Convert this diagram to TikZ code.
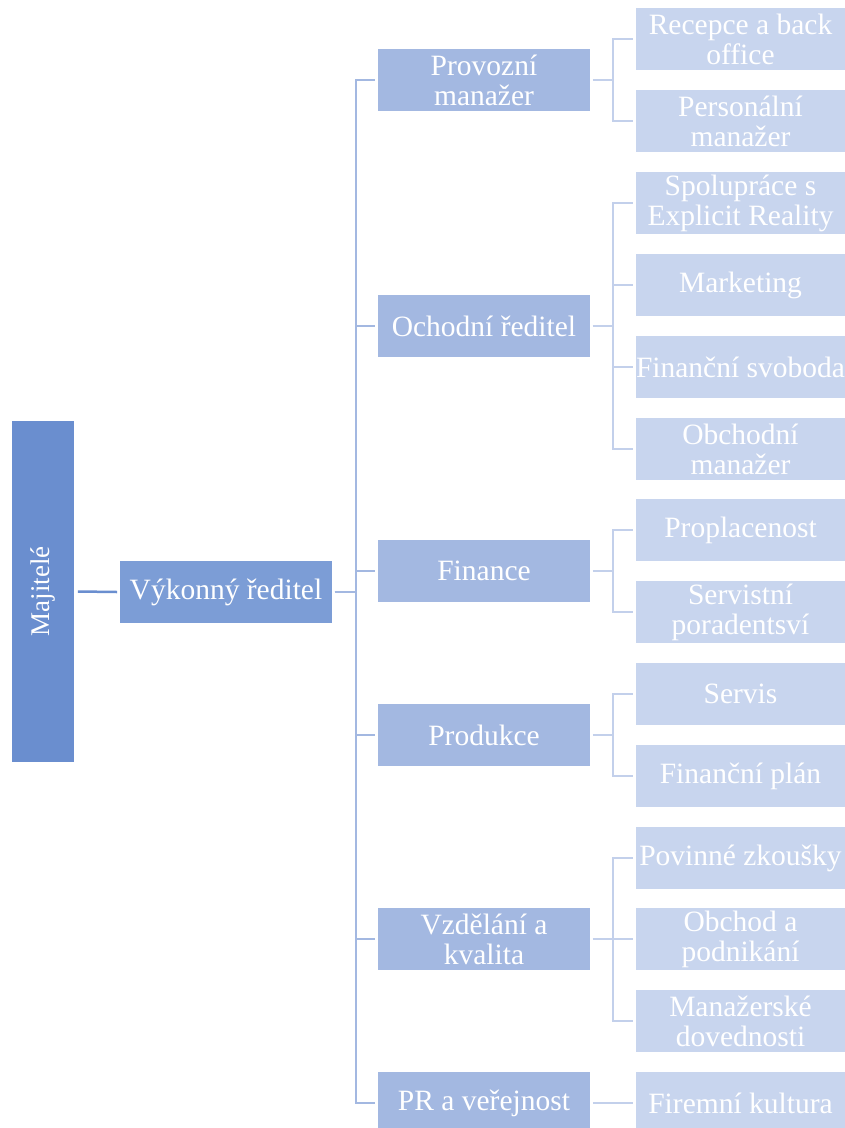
\documentclass[tikz,border=0pt]{standalone}
\usepackage{fontspec}
\setmainfont{Liberation Serif}
\definecolor{cA}{HTML}{6A8ECF}
\definecolor{cB}{HTML}{7C9DD6}
\definecolor{cC}{HTML}{A3B8E1}
\definecolor{cD}{HTML}{C8D5EE}
\definecolor{lB}{HTML}{A3B8E1}
\definecolor{lC}{HTML}{C3D0EB}
\tikzset{
  box/.style={rectangle, draw=white, line width=0.8pt, text=white, align=center, inner sep=0pt,
    font=\fontsize{29.5}{30}\selectfont},
  rootbox/.style={box, fill=cA, minimum width=63pt, minimum height=342pt, font=\fontsize{27}{30}\selectfont},
  ceobox/.style={box, fill=cB, minimum width=213pt, minimum height=63pt},
  midbox/.style={box, fill=cC, minimum width=213pt, minimum height=63pt},
  leafbox/.style={box, fill=cD, minimum width=211pt, minimum height=63pt},
  linkA/.style={draw=cA, line width=2.5pt},
  linkB/.style={draw=lB, line width=2.5pt},
  linkC/.style={draw=lC, line width=2.5pt},
}
\begin{document}
\begin{tikzpicture}[x=1pt,y=-1pt]
\useasboundingbox (0,0) rectangle (845,1128);
\clip (0,0) rectangle (845,1128);
\node[rootbox] (maj) at (43,591.5) {\rotatebox{90}{Majitelé}};
\node[ceobox] (ceo) at (226,592) {Výkonný ředitel};
% level 2
\node[midbox] (p1) at (484,80) {Provozní\\manažer};
\node[midbox] (p2) at (484,326) {Ochodní ředitel};
\node[midbox] (p3) at (484,571) {Finance};
\node[midbox] (p4) at (484,735) {Produkce};
\node[midbox] (p5) at (484,939) {Vzdělání a\\kvalita};
\node[midbox] (p6) at (484,1103) {PR a veřejnost};
% level 3
\node[leafbox] (c1) at (740.5,39) {Recepce a back\\office};
\node[leafbox] (c2) at (740.5,121) {Personální\\manažer};
\node[leafbox] (c3) at (740.5,203) {Spolupráce s\\Explicit Reality};
\node[leafbox] (c4) at (740.5,285) {Marketing};
\node[leafbox] (c5) at (740.5,367) {Finanční svoboda};
\node[leafbox] (c6) at (740.5,449) {Obchodní\\manažer};
\node[leafbox] (c7) at (740.5,530) {Proplacenost};
\node[leafbox] (c8) at (740.5,612) {Servistní\\poradentsví};
\node[leafbox] (c9) at (740.5,694) {Servis};
\node[leafbox] (c10) at (740.5,776) {Finanční plán};
\node[leafbox] (c11) at (740.5,858) {Povinné zkoušky};
\node[leafbox] (c12) at (740.5,939) {Obchod a\\podnikání};
\node[leafbox] (c13) at (740.5,1021) {Manažerské\\dovednosti};
\node[leafbox] (c14) at (740.5,1103) {Firemní kultura};
% connectors
\draw[linkA] (maj.east) ++(3,0) -- ([xshift=-2pt]ceo.west);
\foreach \p in {p1,p2,p3,p4,p5,p6}
  \draw[linkB] ([xshift=2pt]ceo.east) -- ++(21,0) |- ([xshift=-2pt]\p.west);
\foreach \p/\c in {p1/c1,p1/c2,p2/c3,p2/c4,p2/c5,p2/c6,p3/c7,p3/c8,p4/c9,p4/c10,p5/c11,p5/c12,p5/c13,p6/c14}
  \draw[linkC] ([xshift=2pt]\p.east) -- ++(20,0) |- ([xshift=-2pt]\c.west);
\end{tikzpicture}
\end{document}
